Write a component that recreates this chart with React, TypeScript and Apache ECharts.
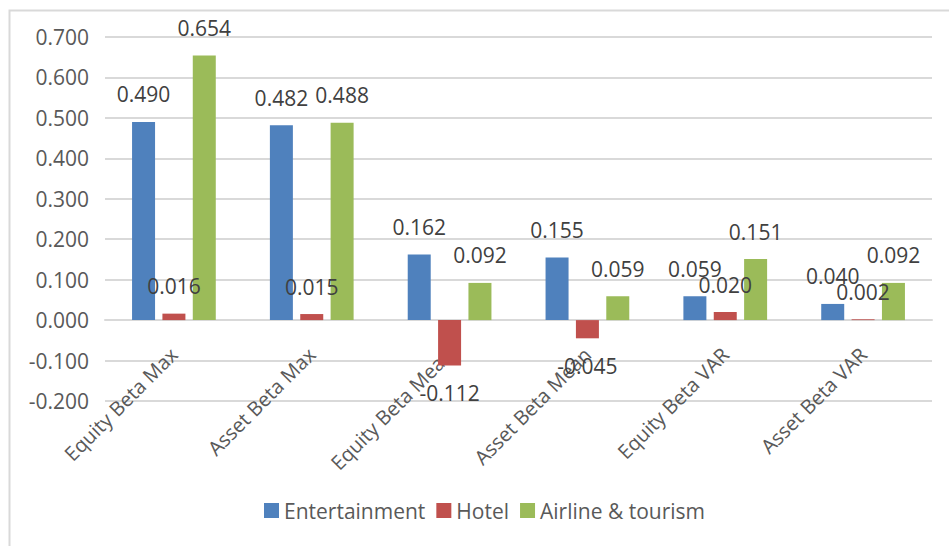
import React, { useEffect, useRef } from "react";
import * as echarts from "echarts";

const categories = [
  "Equity Beta Max",
  "Asset Beta Max",
  "Equity Beta Mean",
  "Asset Beta Mean",
  "Equity Beta VAR",
  "Asset Beta VAR",
];
const seriesNames = ["Entertainment", "Hotel", "Airline & tourism"];
const entertainment = [0.49, 0.482, 0.162, 0.155, 0.059, 0.04];
const hotel = [0.016, 0.015, -0.112, -0.045, 0.02, 0.002];
const airline = [0.654, 0.488, 0.092, 0.059, 0.151, 0.092];
const colors = ["#4F81BD", "#C0504D", "#9BBB59"];

const FONT = "Open Sans";

export default function App() {
  const ref = useRef<HTMLDivElement>(null);
  useEffect(() => {
    document.body.style.margin = "0";
    if (!ref.current) return;
    const chart = echarts.init(ref.current, undefined, { renderer: "svg" });
    const mkSeries = (name: string, data: number[], color: string) => ({
      name,
      type: "bar",
      data,
      barWidth: 23,
      barGap: "32%",
      itemStyle: { color },
      label: {
        show: true,
        position: "outside",
        distance: 17,
        formatter: (p: any) => p.value.toFixed(3),
        color: "#404040",
        fontSize: 21,
        fontFamily: FONT,
      },
    });
    chart.setOption({
      animation: false,
      backgroundColor: "#ffffff",
      textStyle: { fontFamily: FONT },
      graphic: [
        {
          type: "rect",
          left: 7,
          top: 8,
          shape: { x: 0, y: 0, width: 1000, height: 1000 },
          style: { fill: "none", stroke: "#d9d9d9", lineWidth: 2 },
          z: -10,
        },
      ],
      legend: {
        left: 259,
        top: 495,
        icon: "rect",
        itemWidth: 15,
        itemHeight: 15,
        itemGap: 11,
        textStyle: { color: "#595959", fontSize: 21, fontFamily: FONT },
        data: seriesNames,
      },
      grid: {
        left: 105,
        right: 17,
        top: 37,
        bottom: 145,
        containLabel: false,
        outerBoundsMode: "none",
      },
      xAxis: {
        type: "category",
        data: categories,
        axisLine: { onZero: true, lineStyle: { color: "#d9d9d9", width: 2 } },
        axisTick: { show: false },
        axisLabel: {
          interval: 0,
          rotate: 45,
          margin: -50,
          padding: [40, 0, 0, 0],
          color: "#595959",
          fontSize: 20,
          fontFamily: FONT,
        },
      },
      yAxis: {
        type: "value",
        min: -0.2,
        max: 0.7,
        interval: 0.1,
        axisLine: { show: false },
        axisTick: { show: false },
        splitLine: { lineStyle: { color: "#d9d9d9", width: 2 } },
        axisLabel: {
          margin: 16,
          color: "#595959",
          fontSize: 21,
          fontFamily: FONT,
          formatter: (v: number) => v.toFixed(3),
        },
      },
      series: [
        mkSeries(seriesNames[0], entertainment, colors[0]),
        mkSeries(seriesNames[1], hotel, colors[1]),
        mkSeries(seriesNames[2], airline, colors[2]),
      ],
    });
    return () => chart.dispose();
  }, []);
  return <div ref={ref} style={{ width: 949, height: 546 }} />;
}
